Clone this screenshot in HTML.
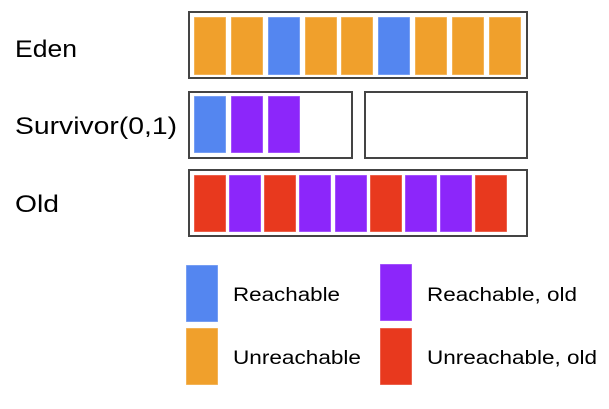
<!DOCTYPE html>
<html><head><meta charset="utf-8"><style>
html,body{margin:0;padding:0;background:#fff;}
svg{display:block;font-family:"Liberation Sans",Arial,sans-serif;}
</style></head><body>
<svg width="609" height="409" viewBox="0 0 609 409" xmlns="http://www.w3.org/2000/svg">
<g fill="#000">
<text x="15" y="57" font-size="24" textLength="62" lengthAdjust="spacingAndGlyphs">Eden</text>
<text x="15" y="134" font-size="24" textLength="162" lengthAdjust="spacingAndGlyphs">Survivor(0,1)</text>
<text x="15" y="212" font-size="24" textLength="44" lengthAdjust="spacingAndGlyphs">Old</text>
</g>
<g fill="none" stroke="#444" stroke-width="2">
<rect x="189" y="12" width="338" height="66"/>
<rect x="189" y="92" width="163" height="66"/>
<rect x="365" y="92" width="162" height="66"/>
<rect x="189" y="170" width="338" height="66"/>
</g>
<g stroke="#fff" stroke-opacity="0.4" stroke-width="1">
<rect x="194" y="17" width="32" height="58" fill="#f0a02c"/>
<rect x="231" y="17" width="32" height="58" fill="#f0a02c"/>
<rect x="268" y="17" width="32" height="58" fill="#5486f0"/>
<rect x="305" y="17" width="32" height="58" fill="#f0a02c"/>
<rect x="341" y="17" width="32" height="58" fill="#f0a02c"/>
<rect x="378" y="17" width="32" height="58" fill="#5486f0"/>
<rect x="415" y="17" width="32" height="58" fill="#f0a02c"/>
<rect x="452" y="17" width="32" height="58" fill="#f0a02c"/>
<rect x="489" y="17" width="32" height="58" fill="#f0a02c"/>

<rect x="194" y="96" width="32" height="57" fill="#5486f0"/>
<rect x="231" y="96" width="32" height="57" fill="#8c26fa"/>
<rect x="268" y="96" width="32" height="57" fill="#8c26fa"/>

<rect x="194" y="175" width="32" height="57" fill="#e8391e"/>
<rect x="229" y="175" width="32" height="57" fill="#8c26fa"/>
<rect x="264" y="175" width="32" height="57" fill="#e8391e"/>
<rect x="299" y="175" width="32" height="57" fill="#8c26fa"/>
<rect x="335" y="175" width="32" height="57" fill="#8c26fa"/>
<rect x="370" y="175" width="32" height="57" fill="#e8391e"/>
<rect x="405" y="175" width="32" height="57" fill="#8c26fa"/>
<rect x="440" y="175" width="32" height="57" fill="#8c26fa"/>
<rect x="475" y="175" width="32" height="57" fill="#e8391e"/>

<rect x="186" y="265" width="32" height="57" fill="#5486f0"/>
<rect x="186" y="328" width="32" height="57" fill="#f0a02c"/>
<rect x="380" y="264" width="32" height="57" fill="#8c26fa"/>
<rect x="380" y="328" width="32" height="57" fill="#e8391e"/>
</g>
<g fill="#000" font-size="19">
<text x="233" y="301" textLength="107" lengthAdjust="spacingAndGlyphs">Reachable</text>
<text x="233" y="364" textLength="128" lengthAdjust="spacingAndGlyphs">Unreachable</text>
<text x="427" y="301" textLength="150" lengthAdjust="spacingAndGlyphs">Reachable, old</text>
<text x="427" y="364" textLength="170" lengthAdjust="spacingAndGlyphs">Unreachable, old</text>
</g>
</svg>
</body></html>
